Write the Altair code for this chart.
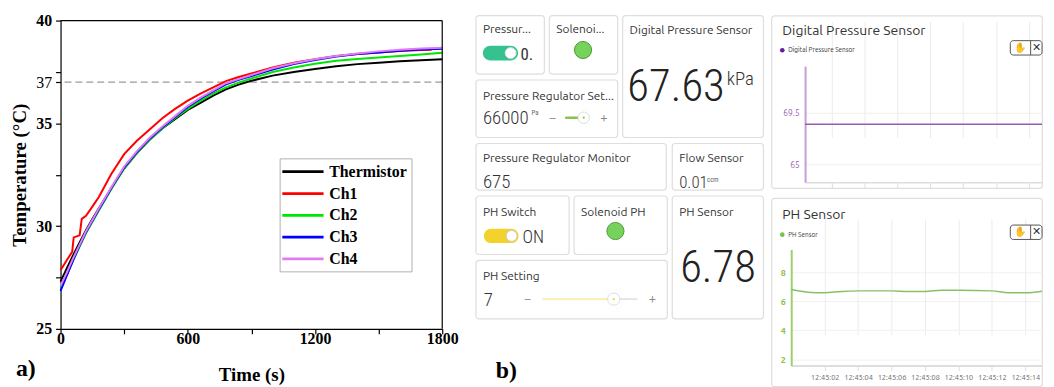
import altair as alt
import pandas as pd

# ================= Panel a) : temperature vs time =================
common_time = [0, 30, 60, 90, 120, 150, 180, 240, 300, 360, 420, 480, 540, 600,
               660, 720, 780, 840, 900, 1000, 1100, 1200, 1300, 1400, 1500, 1600, 1700, 1800]
ch1_time = [0, 30, 55, 62, 90, 100, 120, 150, 180, 240, 300, 360, 420, 480, 540, 600,
            660, 720, 780, 840, 900, 1000, 1100, 1200, 1300, 1400, 1500, 1600, 1700, 1750]

thermistor = [27.30, 27.95, 28.60, 29.20, 29.80, 30.35, 30.85, 31.85, 32.80, 33.55, 34.20, 34.75, 35.20, 35.65,
              36.00, 36.35, 36.65, 36.88, 37.07, 37.32, 37.50, 37.64, 37.78, 37.88, 37.95, 38.02, 38.07, 38.12]
ch1 = [27.85, 28.35, 28.75, 29.45, 29.55, 30.35, 30.50, 30.95, 31.40, 32.55, 33.50, 34.15, 34.70, 35.25, 35.70, 36.10,
       36.45, 36.75, 37.05, 37.25, 37.42, 37.72, 37.95, 38.12, 38.27, 38.37, 38.45, 38.52, 38.57, 38.58]
ch2 = [27.00, 27.65, 28.35, 29.00, 29.65, 30.20, 30.75, 31.80, 32.80, 33.55, 34.20, 34.75, 35.25, 35.70,
       36.10, 36.45, 36.75, 36.98, 37.18, 37.50, 37.72, 37.90, 38.04, 38.13, 38.20, 38.28, 38.35, 38.43]
ch3 = [26.85, 27.60, 28.35, 29.05, 29.70, 30.25, 30.80, 31.85, 32.85, 33.60, 34.25, 34.80, 35.30, 35.80,
       36.20, 36.55, 36.90, 37.12, 37.30, 37.62, 37.88, 38.08, 38.25, 38.37, 38.45, 38.53, 38.59, 38.63]
ch4 = [27.10, 27.75, 28.45, 29.10, 29.75, 30.30, 30.85, 31.90, 32.90, 33.65, 34.30, 34.85, 35.35, 35.85,
       36.25, 36.60, 36.95, 37.15, 37.35, 37.68, 37.92, 38.12, 38.28, 38.40, 38.50, 38.58, 38.64, 38.68]

series_names = ["Thermistor", "Ch1", "Ch2", "Ch3", "Ch4"]
series_colors = ["#000000", "#ff0000", "#00e600", "#0000ff", "#e07cf0"]
x_ticks = [0, 300, 600, 900, 1200, 1500, 1800]
y_ticks = [25, 27.5, 30, 32.5, 35, 37, 37.5, 40]
y_labelled = [25, 30, 35, 37, 40]
x_limits = [0, 1800]
y_limits = [25, 40]
setpoint = [37]
panel_labels = ["a)", "b)"]

# ================= Panel b) : dashboard =================
widget_titles = ["Pressur...", "Solenoi...", "Digital Pressure Sensor", "Pressure Regulator Set...",
                 "Pressure Regulator Monitor", "Flow Sensor", "PH Switch", "Solenoid PH", "PH Sensor", "PH Setting"]
widget_values = ["0.", "", "67.63", "66000", "675", "0.01", "ON", "", "6.78", "7"]
widget_units = ["", "", "kPa", "Pa", "", "ccm", "", "", "", ""]
slider_signs = ["\u2212", "+"]
tool_icons = ["\u270b", "\u2715"]

dps_title = "Digital Pressure Sensor"
dps_seconds = [0.4, 2, 4, 6, 8, 10, 12, 14, 14.8]
dps_kpa = [68.5, 68.5, 68.5, 68.5, 68.5, 68.5, 68.5, 68.5, 68.5]
dps_y_ticks = [65, 69.5]

ph_title = "PH Sensor"
ph_seconds = [0, 1, 2, 3, 4, 6, 7, 8, 9, 10, 12, 13, 14, 15]
ph_values = [6.81, 6.63, 6.59, 6.68, 6.72, 6.72, 6.68, 6.68, 6.77, 6.77, 6.72, 6.59, 6.59, 6.70]
ph_y_ticks = [2, 4, 6, 8]
ph_x_ticks = [2, 4, 6, 8, 10, 12, 14]
ph_x_labels = ["12:45:02", "12:45:04", "12:45:06", "12:45:08", "12:45:10", "12:45:12", "12:45:14"]

SERIF = "Liberation Serif"
TITLE_FONT = "Ubuntu, 'Noto Sans', sans-serif"
VALUE_FONT = "'Roboto Condensed', 'Liberation Sans Narrow', 'DejaVu Sans Condensed', Roboto, sans-serif"
CARD_STROKE = "#dedede"
CARD_VIEW = alt.ViewBackground(fill="white", stroke=CARD_STROKE, strokeWidth=1.2, cornerRadius=3)

# ---------- left chart ----------
rows = []
for name, times, vals in [("Thermistor", common_time, thermistor), ("Ch1", ch1_time, ch1),
                          ("Ch2", common_time, ch2), ("Ch3", common_time, ch3), ("Ch4", common_time, ch4)]:
    for t, v in zip(times, vals):
        rows.append({"Time": t, "Temp": v, "Series": name})
df_a = pd.DataFrame(rows)

PW, PH_, TOP = 385, 316, 5   # plot width, view height, inner top gap

x_axis = alt.Axis(values=x_ticks, format="d", labelExpr="datum.value % 600 == 0 ? datum.label : ''",
                  title="Time (s)", grid=False, domainColor="black", domainWidth=1.2,
                  tickColor="black", tickWidth=1.2, tickSize=5, labelFlush=False, labelOverlap=False,
                  labelFont=SERIF, labelFontWeight="bold", labelFontSize=16, labelColor="black",
                  labelPadding=-3, titleFont=SERIF, titleFontWeight="bold", titleFontSize=19,
                  titleColor="black", titlePadding=19)
y_axis = alt.Axis(values=y_ticks,
                  labelExpr="indexof(" + str(y_labelled) + ", datum.value) >= 0 ? datum.label : ''",
                  title="Temperature (\u00b0C)", grid=False, domainColor="black", domainWidth=1.2,
                  tickColor="black", tickWidth=1.2, tickSize=5, labelFlush=False, labelOverlap=False,
                  labelFont=SERIF, labelFontSize=16, labelColor="black",
                  labelFontWeight={"condition": {"test": "datum.value == 37", "value": "normal"}, "value": "bold"},
                  labelPadding=4, titleFont=SERIF, titleFontWeight="bold", titleFontSize=19,
                  titleColor="black", titlePadding=6)

xs = alt.Scale(domain=x_limits, nice=False, zero=False)
ys = alt.Scale(domain=y_limits, range=[PH_, TOP], nice=False, zero=False)

lines = alt.Chart(df_a).mark_line(strokeWidth=2).encode(
    x=alt.X("Time:Q", scale=xs, axis=x_axis),
    y=alt.Y("Temp:Q", scale=ys, axis=y_axis),
    color=alt.Color("Series:N", scale=alt.Scale(domain=series_names, range=series_colors),
                    legend=alt.Legend(title=None, orient="none", legendX=221, legendY=139 + TOP,
                                      direction="vertical", symbolType="M-2.6,0L2.6,0", symbolSize=256,
                                      symbolStrokeWidth=2.8, symbolOffset=10, labelOffset=17,
                                      labelFont=SERIF, labelFontWeight="bold", labelFontSize=16,
                                      labelColor="black", rowPadding=4, padding=4,
                                      strokeColor="#b0b0b0", fillColor="white", labelLimit=200)),
    detail="Series:N",
)
rule37 = alt.Chart(pd.DataFrame({"sp": setpoint})).mark_rule(
    color="#9a9a9a", strokeDash=[7, 4], strokeWidth=1.3).encode(y=alt.Y("sp:Q", scale=ys))
frame_top = alt.Chart(pd.DataFrame({"v": [y_limits[1]]})).mark_rule(color="black", strokeWidth=1.2).encode(
    y=alt.Y("v:Q", scale=ys))
frame_right = alt.Chart(pd.DataFrame({"t": [x_limits[1]], "lo": [y_limits[0]], "hi": [y_limits[1]]})).mark_rule(
    color="black", strokeWidth=1.2).encode(x=alt.X("t:Q", scale=xs), y=alt.Y("lo:Q", scale=ys), y2="hi:Q")
label_a = alt.Chart(pd.DataFrame({"s": [panel_labels[0]]})).mark_text(
    align="left", baseline="middle", font=SERIF, fontWeight="bold", fontSize=24, color="black"
).encode(x=alt.value(-45), y=alt.value(352 + TOP), text="s:N")

left = alt.layer(rule37, lines, frame_top, frame_right, label_a).properties(
    width=PW, height=PH_, view=alt.ViewBackground(stroke="transparent", fill="white"))


# ---------- helpers for the dashboard ----------
def txt(s, x, y, size, font=TITLE_FONT, color="#333333", weight="normal", align="left", baseline="middle"):
    return alt.Chart(pd.DataFrame({"s": [s]})).mark_text(
        align=align, baseline=baseline, font=font, fontSize=size, fontWeight=weight, color=color
    ).encode(x=alt.value(x), y=alt.value(y), text="s:N")


def box(x, x2, y, y2, fill, stroke="transparent", radius=0, sw=1):
    return alt.Chart(pd.DataFrame({"d": [0]})).mark_rect(
        fill=fill, stroke=stroke, strokeWidth=sw, cornerRadius=radius
    ).encode(x=alt.value(x), x2=alt.value(x2), y=alt.value(y), y2=alt.value(y2))


def dot(x, y, size, fill, stroke="transparent", sw=1, opacity=1):
    return alt.Chart(pd.DataFrame({"d": [0]})).mark_circle(
        size=size, fill=fill, stroke=stroke, strokeWidth=sw, opacity=opacity, fillOpacity=opacity
    ).encode(x=alt.value(x), y=alt.value(y))


def seg(x, x2, y, color, sw):
    return alt.Chart(pd.DataFrame({"d": [0]})).mark_rule(color=color, strokeWidth=sw, strokeCap="round").encode(
        x=alt.value(x), x2=alt.value(x2), y=alt.value(y))


def vseg(x, y, y2, color, sw):
    return alt.Chart(pd.DataFrame({"d": [0]})).mark_rule(color=color, strokeWidth=sw).encode(
        x=alt.value(x), y=alt.value(y), y2=alt.value(y2))


# card frames of the widget grid: (left, top, width, height) in the grid's own pixels
CARD_BOXES = {
    "A": (0, 0, 69, 59), "B": (74, 0, 69, 59), "C": (148, 0, 142, 123), "D": (0, 65, 143, 58),
    "E": (0, 129, 192, 47), "F": (198, 129, 92, 47), "G": (0, 182, 94, 59), "H": (99, 182, 94, 59),
    "I": (198, 182, 92, 124), "J": (0, 247, 193, 59),
}

layers = []


def frame(k):
    cx, cy, w, h = CARD_BOXES[k]
    layers.append(box(cx, cx + w, cy, cy + h, "white", CARD_STROKE, radius=3, sw=1.2))
    return cx, cy


def title(i, cx, cy, y=15):
    layers.append(txt(widget_titles[i], cx + 7, cy + y, 12))


# A: Pressure switch
cx, cy = frame("A")
title(0, cx, cy, 14)
layers += [box(cx + 7, cx + 42.5, cy + 30.3, cy + 45.3, "#36c28f", radius=7.5),
           dot(cx + 35, cy + 37.8, 120, "white", "#e0e0e0"),
           txt(widget_values[0], cx + 45, cy + 44.5, 17, font=VALUE_FONT, baseline="alphabetic")]
# B: Solenoid
cx, cy = frame("B")
title(1, cx, cy, 14)
layers += [dot(cx + 34, cy + 34.7, 300, "#76d25a", "#4f9a3a")]
# C: Digital pressure big value
cx, cy = frame("C")
title(2, cx, cy, 15)
layers += [txt(widget_values[2], cx + 103, cy + 86, 45, font=VALUE_FONT, color="#222222", align="right",
               baseline="alphabetic", weight=300),
           txt(widget_units[2], cx + 105, cy + 70, 19, font=VALUE_FONT, color="#333333", baseline="alphabetic",
               weight=300)]
# D: Pressure regulator set
cx, cy = frame("D")
title(3, cx, cy, 16)
layers += [txt(widget_values[3], cx + 7, cy + 44, 19, font=VALUE_FONT, baseline="alphabetic", weight=300),
           txt(widget_units[3], cx + 56, cy + 35, 7, font=VALUE_FONT, color="#666666", baseline="alphabetic"),
           txt(slider_signs[0], cx + 77, cy + 38, 13, color="#888888", align="center"),
           seg(cx + 91, cx + 104, cy + 38, "#8bc34a", 2.5),
           dot(cx + 108.7, cy + 38, 420, "#000000", opacity=0.05),
           dot(cx + 108.7, cy + 38, 130, "white", "#dddddd"),
           dot(cx + 108.7, cy + 38, 5, "#8bc34a"),
           txt(slider_signs[1], cx + 129, cy + 38, 13, color="#888888", align="center")]
# E: Pressure regulator monitor
cx, cy = frame("E")
title(4, cx, cy, 15)
layers += [txt(widget_values[4], cx + 7, cy + 45, 19, font=VALUE_FONT, baseline="alphabetic", weight=300)]
# F: Flow sensor
cx, cy = frame("F")
title(5, cx, cy, 15)
layers += [txt(widget_values[5], cx + 7, cy + 45, 17, font=VALUE_FONT, baseline="alphabetic", weight=300),
           txt(widget_units[5], cx + 35, cy + 39, 7, font=VALUE_FONT, color="#666666", baseline="alphabetic")]
# G: PH switch
cx, cy = frame("G")
title(6, cx, cy, 16)
layers += [box(cx + 8, cx + 43, cy + 33, cy + 47.5, "#f4d22e", radius=7.2),
           dot(cx + 36, cy + 40.2, 120, "white", "#cccccc"),
           txt(widget_values[6], cx + 47, cy + 47, 18, font=VALUE_FONT, baseline="alphabetic", weight=300)]
# H: Solenoid PH
cx, cy = frame("H")
title(7, cx, cy, 16)
layers += [dot(cx + 41.7, cy + 35.3, 300, "#76d25a", "#4f9a3a")]
# I: PH sensor value
cx, cy = frame("I")
title(8, cx, cy, 16)
layers += [txt(widget_values[8], cx + 8, cy + 87, 45, font=VALUE_FONT, color="#222222", baseline="alphabetic",
               weight=300)]
# J: PH setting
cx, cy = frame("J")
title(9, cx, cy, 16)
layers += [txt(widget_values[9], cx + 8, cy + 46, 19, font=VALUE_FONT, baseline="alphabetic", weight=300),
           txt(slider_signs[0], cx + 52, cy + 39, 13, color="#888888", align="center"),
           seg(cx + 68, cx + 139, cy + 39, "#fbefc0", 2.5),
           seg(cx + 139, cx + 162, cy + 39, "#e3e3e3", 2),
           dot(cx + 139, cy + 39, 700, "#000000", opacity=0.04),
           dot(cx + 139, cy + 39, 150, "white", "#dddddd"),
           dot(cx + 139, cy + 39, 5, "#f4d22e"),
           txt(slider_signs[1], cx + 178, cy + 39, 13, color="#888888", align="center"),
           txt(panel_labels[1], cx + 20, cy + 112, 24, font=SERIF, color="black", weight="bold")]

middle = alt.layer(*layers).properties(
    width=290, height=306, view=alt.ViewBackground(stroke="transparent", fill="transparent"))

RW = 273  # width of the right-hand chart cards


def tools(y0):
    return [box(241, RW, y0, y0 + 14.5, "white", "#555555", radius=3, sw=1),
            vseg(261.5, y0, y0 + 14.5, "#555555", 1),
            txt(tool_icons[0], 251, y0 + 7.5, 10, font="'DejaVu Sans'", color="#333333", align="center"),
            txt(tool_icons[1], 267.5, y0 + 7.5, 11, font="'DejaVu Sans'", color="#333333", align="center")]


# Digital pressure sensor chart card
dps_df = pd.DataFrame({"sec": dps_seconds, "kpa": dps_kpa})
dps_line = alt.Chart(dps_df).mark_line(color="#9b59b6", strokeWidth=1.5).encode(
    x=alt.X("sec:Q", scale=alt.Scale(domain=[0.4, 14.8], range=[34, RW], nice=False, zero=False),
            axis=alt.Axis(values=ph_x_ticks, labels=False, title=None, grid=True, gridColor="#ececec",
                          domainColor="#dddddd", domainWidth=1.5, tickColor="#dddddd", tickSize=6,
                          offset=-6)),
    y=alt.Y("kpa:Q", scale=alt.Scale(domain=[63.44, 73.57], range=[168, 51], nice=False, zero=False),
            axis=alt.Axis(values=dps_y_ticks, format=".3~g", title=None, grid=True, gridColor="#f0f0f0",
                          domainColor="#c89bd9", domainWidth=2, ticks=False, labelColor="#9c5fb5",
                          labelFontSize=8.5, labelFont=TITLE_FONT, labelPadding=6, offset=-34)),
)
dps_card = alt.layer(
    dps_line,
    txt(dps_title, 11, 16, 14),
    dot(11, 35, 22, "#6a1b9a"),
    txt(dps_title, 17, 35, 6.5),
    *tools(25.3),
).properties(width=RW, height=174, view=CARD_VIEW)

# PH sensor chart card
ph_df = pd.DataFrame({"sec": ph_seconds, "ph": ph_values})
ph_label_expr = "[" + ",".join("'" + s + "'" for s in ph_x_labels) + "][(datum.value - 2) / 2]"
ph_line = alt.Chart(ph_df).mark_line(color="#86c166", strokeWidth=1.5, interpolate="monotone").encode(
    x=alt.X("sec:Q", scale=alt.Scale(domain=[0, 15.0], range=[20, RW], nice=False, zero=False),
            axis=alt.Axis(values=ph_x_ticks, labelExpr=ph_label_expr, title=None, grid=True,
                          gridColor="#ececec", domainColor="#dddddd", domainWidth=2, tickColor="#dddddd",
                          tickSize=5, labelColor="#666666", labelFontSize=7.5, labelFont=TITLE_FONT,
                          labelPadding=3, offset=-21, labelFlush=False)),
    y=alt.Y("ph:Q", scale=alt.Scale(domain=[1.57, 9.57], range=[169, 52], nice=False, zero=False),
            axis=alt.Axis(values=ph_y_ticks, title=None, grid=True, gridColor="#f0f0f0",
                          domainColor="#9ed06a", domainWidth=2, ticks=False, labelColor="#8bc34a",
                          labelFontWeight="bold", labelFontSize=9, labelFont=TITLE_FONT, labelPadding=6,
                          offset=-20)),
)
ph_card = alt.layer(
    ph_line,
    txt(ph_title, 11, 17, 14),
    dot(11, 37, 22, "#7cc242"),
    txt(ph_title, 17, 37, 6.5),
    *tools(27.3),
).properties(width=RW, height=190, view=CARD_VIEW)

# ---------- layout ----------
right = alt.vconcat(dps_card, ph_card, spacing=7)
dashboard = alt.hconcat(middle, right, spacing=5)

chart = alt.hconcat(left, dashboard, spacing=34, bounds="flush").properties(
    padding={"left": 2, "top": 2, "right": 0, "bottom": 0},
    background="white",
)

chart.save("out.html", embed_options={"renderer": "svg", "actions": False})
